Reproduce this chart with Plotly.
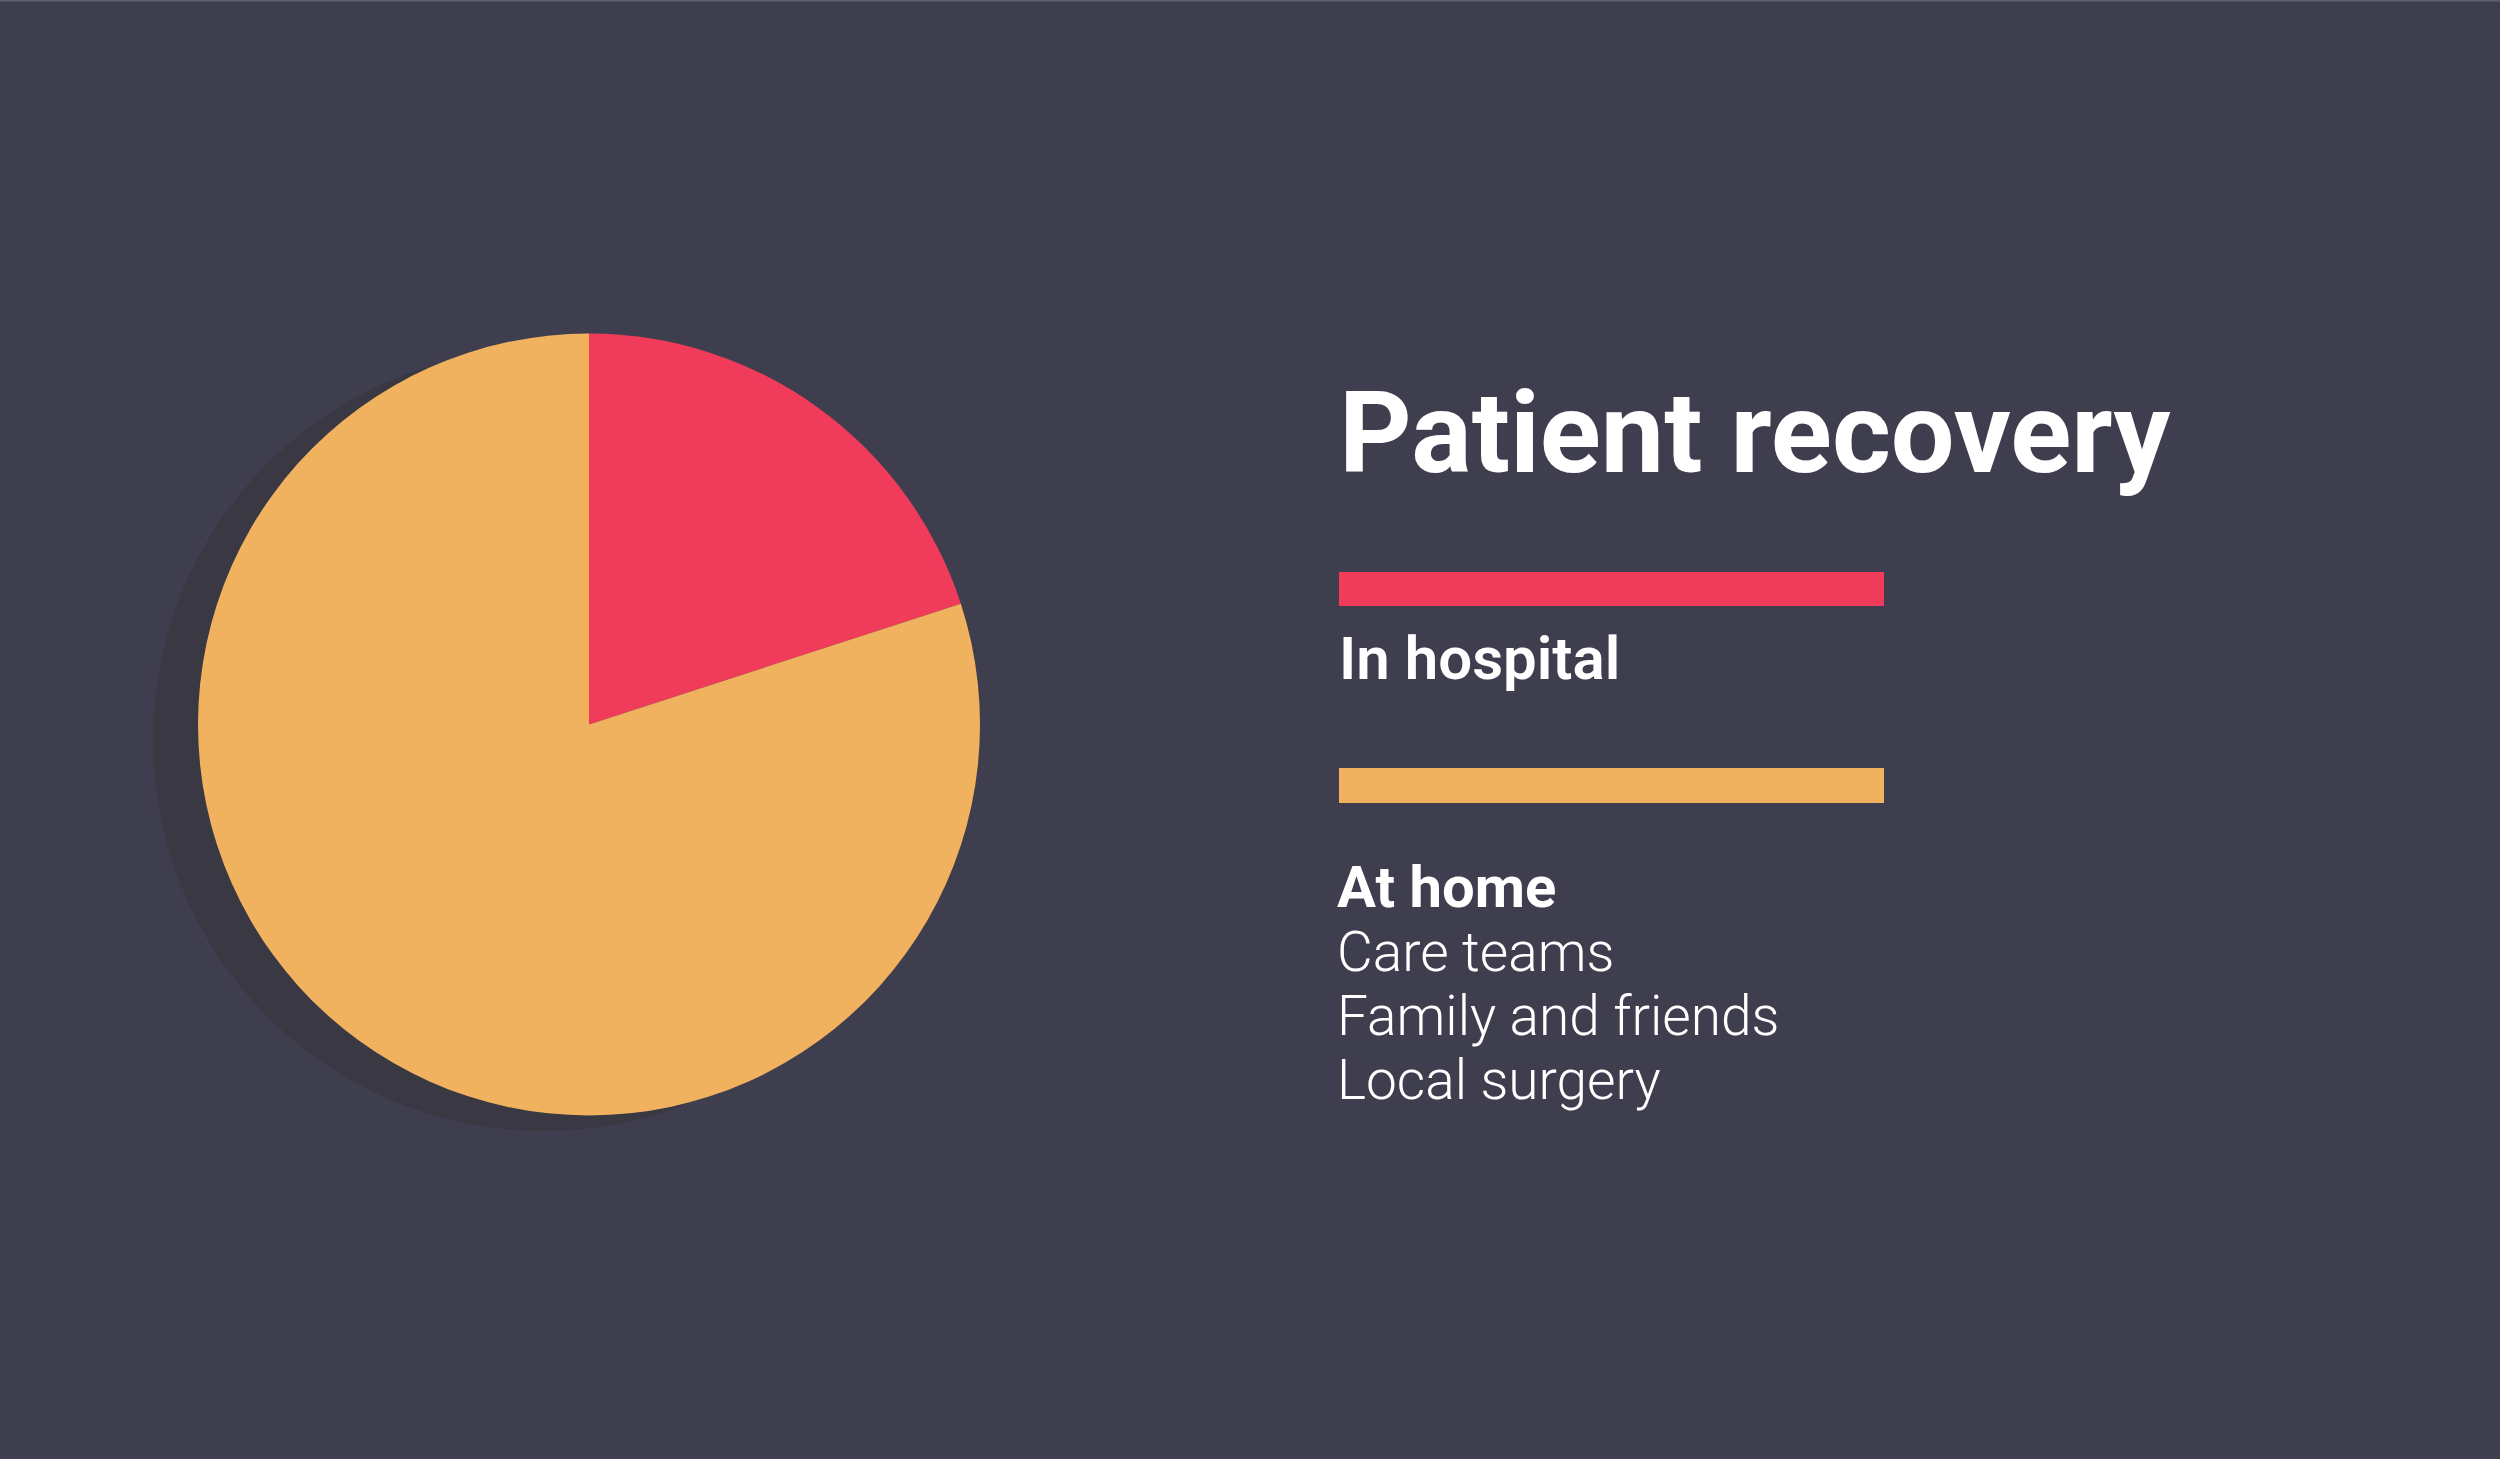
import plotly.graph_objects as go

W, H = 2500, 1459

# ---- data ----
categories = ["In hospital", "At home"]
values = [20, 80]
colors = ["#F03C5A", "#F1B260"]
home_items = ["Care teams", "Family and friends", "Local surgery"]
title_text = "Patient recovery"

BG = "#3F3E4F"
SHADOW = "#393843"
FONT = "Roboto"


def px(x):
    return x / W


def py(y):
    return 1 - y / H


fig = go.Figure()

# pie
cx, cy, r = 589, 724.5, 391
fig.add_trace(go.Pie(
    labels=categories,
    values=values,
    marker=dict(colors=colors, line=dict(width=0)),
    sort=False,
    direction="clockwise",
    rotation=0,
    textinfo="none",
    hoverinfo="skip",
    showlegend=False,
    domain=dict(x=[px(cx - r), px(cx + r)], y=[py(cy + r), py(cy - r)]),
))

shapes = []
# shadow behind the pie
sx, sy = 544, 740
shapes.append(dict(type="circle", xref="paper", yref="paper", layer="below",
                   x0=px(sx - r), x1=px(sx + r), y0=py(sy + r), y1=py(sy - r),
                   fillcolor=SHADOW, line=dict(width=0)))
# thin top edge line
shapes.append(dict(type="rect", xref="paper", yref="paper", layer="below",
                   x0=0, x1=1, y0=py(1.5), y1=1,
                   fillcolor="#5F5E6B", line=dict(width=0)))
# legend swatch bars
bar_x0, bar_x1 = 1339, 1884
bar_rows = [(572, 606), (768, 803)]
for (y0, y1), col in zip(bar_rows, colors):
    shapes.append(dict(type="rect", xref="paper", yref="paper",
                       x0=px(bar_x0), x1=px(bar_x1), y0=py(y1), y1=py(y0),
                       fillcolor=col, line=dict(width=0)))

annotations = []


def label(text, x, ycenter, size, weight):
    annotations.append(dict(
        text=text, x=px(x), y=py(ycenter), xref="paper", yref="paper",
        xanchor="left", yanchor="middle", showarrow=False,
        font=dict(family=FONT, size=size, color="#FFFFFF", weight=weight),
    ))


label(title_text, 1337, 434, 113, 700)
label(categories[0], 1337, 658, 60, 600)
label(categories[1], 1335, 886.5, 58, 700)
for i, item in enumerate(home_items):
    label(item, 1335, 952 + i * 64, 55, 300)

fig.update_layout(
    width=W, height=H,
    margin=dict(l=0, r=0, t=0, b=0),
    paper_bgcolor=BG, plot_bgcolor=BG,
    shapes=shapes, annotations=annotations,
)

fig.write_html("out.html")
